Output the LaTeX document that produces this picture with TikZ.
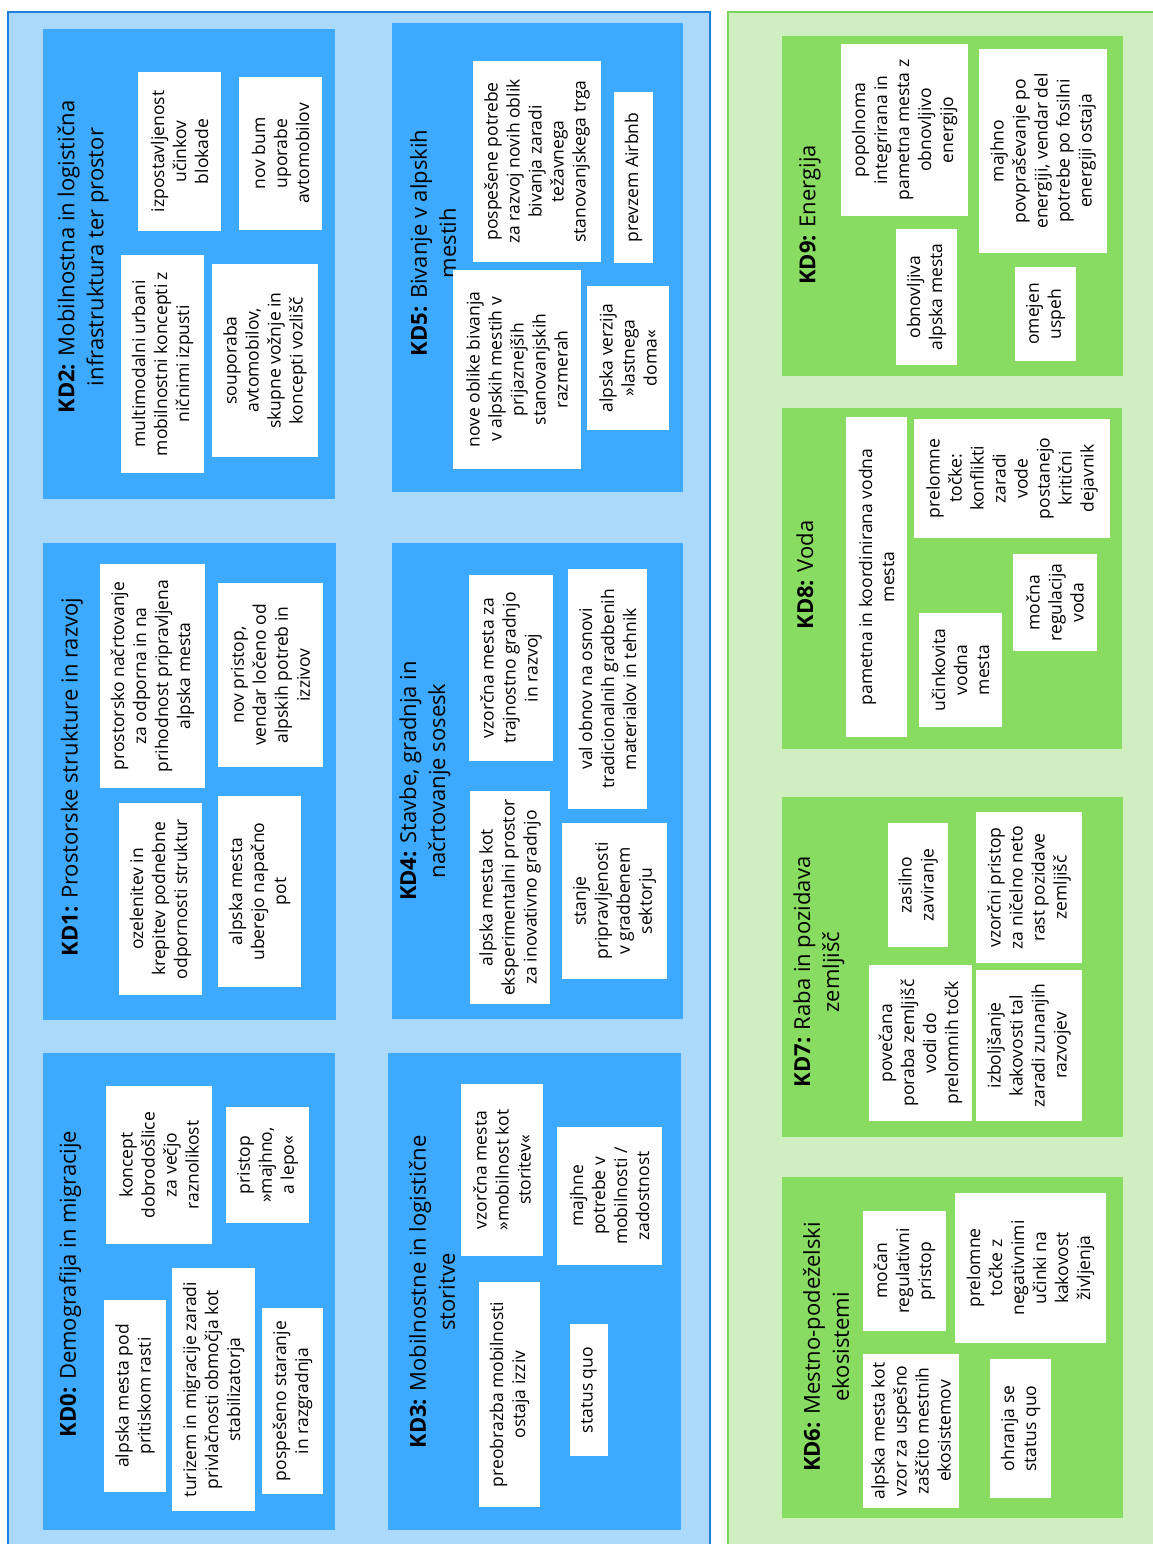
\documentclass[tikz,border=0pt]{standalone}
\usepackage{fontspec}
\setmainfont{Open Sans}
\usepackage{tikz}
\definecolor{paleblue}{RGB}{170,217,252}
\definecolor{kdblue}{RGB}{61,170,255}
\definecolor{edgeblue}{RGB}{30,128,220}
\definecolor{palegreen}{RGB}{207,239,193}
\definecolor{kdgreen}{RGB}{135,220,97}
\definecolor{edgegreen}{RGB}{120,215,90}
\def\card(#1)(#2,#3)(#4,#5)#6{\node[card, minimum width={(#5-#3)*1pt}, minimum height={(#4-#2)*1pt}] (#1) at ({(#2+#4)/2},{(#3+#5)/2}) {#6};}
\def\kdbox[#1](#2,#3)(#4,#5){\fill[#1] (#2,#3) rectangle (#4,#5);}

\begin{document}
\begin{tikzpicture}[x=1pt, y=-1pt,
	card/.style={fill=white, rotate=90, align=center, inner sep=0pt, font=\fontsize{17.5}{22}\selectfont},
	kdtitle/.style={rotate=90, align=center, inner sep=0pt, font=\fontsize{22}{29}\selectfont}]
		%%%%% START %%%%%
		\useasboundingbox (0,0) rectangle (1153,1544);
		
		\draw[fill=paleblue, draw=edgeblue, line width=1.5pt] (8,12) rectangle (710,1560);
		\draw[fill=palegreen, draw=edgegreen, line width=1.5pt] (728,12) rectangle (1160,1560);
		
		\kdbox[kdblue](43,29)(335,499)
		\kdbox[kdblue](43,543)(336,1020)
		\kdbox[kdblue](43,1053)(335,1530)
		\kdbox[kdblue](392,23)(683,492)
		\kdbox[kdblue](392,543)(683,1019)
		\kdbox[kdblue](388,1053)(681,1530)
		
		\kdbox[kdgreen](782,36)(1123,376)
		\kdbox[kdgreen](782,408)(1122,749)
		\kdbox[kdgreen](782,797)(1123,1137)
		\kdbox[kdgreen](782,1177)(1123,1518)
		
		\node[kdtitle] (t0) at (70,1284) {\textbf{KD0:} Demografija in migracije};
		\node[kdtitle] (t1) at (72,777) {\textbf{KD1:} Prostorske strukture in razvoj};
		\node[kdtitle] (t2) at (83,257) {\textbf{KD2:} Mobilnostna in logistična\\infrastruktura ter prostor};
		\node[kdtitle] (t3) at (432,1292) {\textbf{KD3:} Mobilnostne in logistične\\storitve};
		\node[kdtitle] (t4) at (425,781) {\textbf{KD4:} Stavbe, gradnja in\\načrtovanje sosesk};
		\node[kdtitle] (t5) at (433,243) {\textbf{KD5:} Bivanje v alpskih\\mestih};
		\node[kdtitle] (t6) at (826,1347) {\textbf{KD6:} Mestno-podeželski\\ekosistemi};
		\node[kdtitle] (t7) at (819,972) {\textbf{KD7:} Raba in pozidava\\zemljišč};
		\node[kdtitle] (t8) at (805,575) {\textbf{KD8:} Voda};
		\node[kdtitle] (t9) at (810,215) {\textbf{KD9:} Energija};
		
		% KD2
		\card(kd2a)(138,72)(221,231){izpostavljenost\\učinkov\\blokade}
		\card(kd2b)(239,77)(322,230){nov bum\\uporabe\\avtomobilov}
		\card(kd2c)(121,255)(204,473){multimodalni urbani\\mobilnostni koncepti z\\ničnimi izpusti}
		\card(kd2d)(212,264)(318,457){souporaba\\avtomobilov,\\skupne vožnje in\\koncepti vozlišč}
		
		% KD1
		\card(kd1a)(100,564)(205,788){prostorsko načrtovanje\\za odporna in na\\prihodnost pripravljena\\alpska mesta}
		\card(kd1b)(218,583)(323,767){nov pristop,\\vendar ločeno od\\alpskih potreb in\\izzivov}
		\card(kd1c)(119,803)(202,995){ozelenitev in\\krepitev podnebne\\odpornosti struktur}
		\card(kd1d)(218,796)(301,987){alpska mesta\\uberejo napačno\\pot}
		
		% KD0
		\card(kd0a)(106,1086)(212,1244){koncept\\dobrodošlice\\za večjo\\raznolikost}
		\card(kd0b)(226,1107)(309,1223){pristop\\»majhno,\\a lepo«}
		\card(kd0c)(104,1300)(166,1492){alpska mesta pod\\pritiskom rasti}
		\card(kd0d)(172,1268)(255,1511){turizem in migracije zaradi\\privlačnosti območja kot\\stabilizatorja}
		\card(kd0e)(262,1308)(323,1494){pospešeno staranje\\in razgradnja}
		
		% KD5
		\card(kd5a)(473,61)(601,262){pospešene potrebe\\za razvoj novih oblik\\bivanja zaradi\\težavnega\\stanovanjskega trga}
		\card(kd5b)(614,92)(653,263){prevzem Airbnb}
		\card(kd5c)(453,270)(581,469){nove oblike bivanja\\v alpskih mestih v\\prijaznejših\\stanovanjskih\\razmerah}
		\card(kd5d)(587,286)(669,430){alpska verzija\\»lastnega\\doma«}
		
		% KD4
		\card(kd4a)(469,575)(553,761){vzorčna mesta za\\trajnostno gradnjo\\in razvoj}
		\card(kd4b)(568,569)(647,809){val obnov na osnovi\\tradicionalnih gradbenih\\materialov in tehnik}
		\card(kd4c)(470,791)(550,1004){alpska mesta kot\\eksperimentalni prostor\\za inovativno gradnjo}
		\card(kd4d)(562,823)(667,979){stanje\\pripravljenosti\\v gradbenem\\sektorju}
		
		% KD3
		\card(kd3a)(461,1084)(543,1256){vzorčna mesta\\»mobilnost kot\\storitev«}
		\card(kd3b)(557,1127)(662,1265){majhne\\potrebe v\\mobilnosti /\\zadostnost}
		\card(kd3c)(479,1282)(540,1507){preobrazba mobilnosti\\ostaja izziv}
		\card(kd3d)(570,1324)(608,1456){status quo}
		
		% KD9
		\card(kd9a)(841,44)(968,216){popolnoma\\integrirana in\\pametna mesta z\\obnovljivo\\energijo}
		\card(kd9b)(979,49)(1107,253){majhno\\povpraševanje po\\energiji, vendar del\\potrebe po fosilni\\energiji ostaja}
		\card(kd9c)(896,229)(957,365){obnovljiva\\alpska mesta}
		\card(kd9d)(1015,267)(1076,361){omejen\\uspeh}
		
		% KD8
		\card(kd8a)(846,417)(907,737){pametna in koordinirana vodna\\mesta}
		\card(kd8b)(914,419)(1110,538){prelomne\\točke:\\konflikti\\zaradi\\vode\\postanejo\\kritični\\dejavnik}
		\card(kd8c)(919,613)(1002,727){učinkovita\\vodna\\mesta}
		\card(kd8d)(1013,554)(1097,651){močna\\regulacija\\voda}
		
		% KD7
		\card(kd7a)(888,823)(948,947){zasilno\\zaviranje}
		\card(kd7b)(976,812)(1082,963){vzorčni pristop\\za ničelno neto\\rast pozidave\\zemljišč}
		\card(kd7c)(869,965)(972,1121){povečana\\poraba zemljišč\\vodi do\\prelomnih točk}
		\card(kd7d)(976,970)(1082,1121){izboljšanje\\kakovosti tal\\zaradi zunanjih\\razvojev}
		
		% KD6
		\card(kd6a)(863,1211)(946,1331){močan\\regulativni\\pristop}
		\card(kd6b)(955,1193)(1106,1343){prelomne\\točke z\\negativnimi\\učinki na\\kakovost\\življenja}
		\card(kd6c)(863,1354)(959,1508){alpska mesta kot\\vzor za uspešno\\zaščito mestnih\\ekosistemov}
		\card(kd6d)(990,1359)(1051,1498){ohranja se\\status quo}
		
		%%%%% END %%%%%
\end{tikzpicture}
\end{document}
